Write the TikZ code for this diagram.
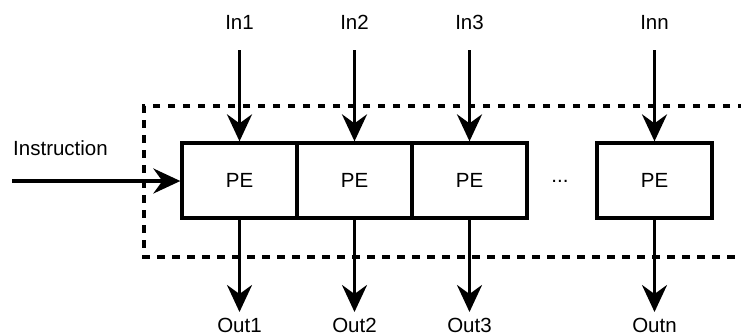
\documentclass[tikz,border=0pt]{standalone}
\usepackage{fontspec}
\setmainfont{Liberation Sans}
\usetikzlibrary{arrows.meta}
\begin{document}
\begin{tikzpicture}[x=1pt,y=-1pt,
  every node/.style={font=\fontsize{20.5}{24}\selectfont},
  pebox/.style={draw, line width=3.3pt, minimum width=115pt, minimum height=75pt, inner sep=0pt},
  lbl/.style={inner sep=0pt},
  flow/.style={line width=3.3pt, -{Stealth[length=27pt, width=25pt, inset=9pt]}},
  frame/.style={line width=3.3pt, dash pattern=on 7.5pt off 7.5pt}]
  \useasboundingbox (0,0) rectangle (741,335);

  % array frame, open on the right
  \draw[frame] (745,106) -- (144,106) -- (144,257) -- (745,257);

  % processing elements
  \node[pebox] (pe1) at (239.5,180.5) {PE};
  \node[pebox] (pe2) at (354.5,180.5) {PE};
  \node[pebox] (pe3) at (469.5,180.5) {PE};
  \node[pebox] (pen) at (654.5,180.5) {PE};
  \node[lbl] (dots) at (560,181) {...};

  % inputs
  \node[lbl] (in1) at (239.5,22.5) {In1};
  \node[lbl] (in2) at (354.5,22.5) {In2};
  \node[lbl] (in3) at (469.5,22.5) {In3};
  \node[lbl] (inn) at (654.5,22.5) {Inn};
  \foreach \i in {1,2,3,n} {
    \coordinate (src\i) at (in\i |- 0,50);
    \draw[flow] (src\i) -- (pe\i.north);
  }

  % outputs
  \node[lbl] (out1) at (239.5,325) {Out1};
  \node[lbl] (out2) at (354.5,325) {Out2};
  \node[lbl] (out3) at (469.5,325) {Out3};
  \node[lbl] (outn) at (654.5,325) {Outn};
  \foreach \i in {1,2,3,n} {
    \coordinate (dst\i) at (out\i |- 0,312);
    \draw[flow] (pe\i.south) -- (dst\i);
  }

  % instruction broadcast
  \node[lbl] (instr) at (60.5,148.5) {Instruction};
  \coordinate (isrc) at (12,181);
  \draw[flow] (isrc) -- (isrc -| pe1.west);
\end{tikzpicture}
\end{document}
